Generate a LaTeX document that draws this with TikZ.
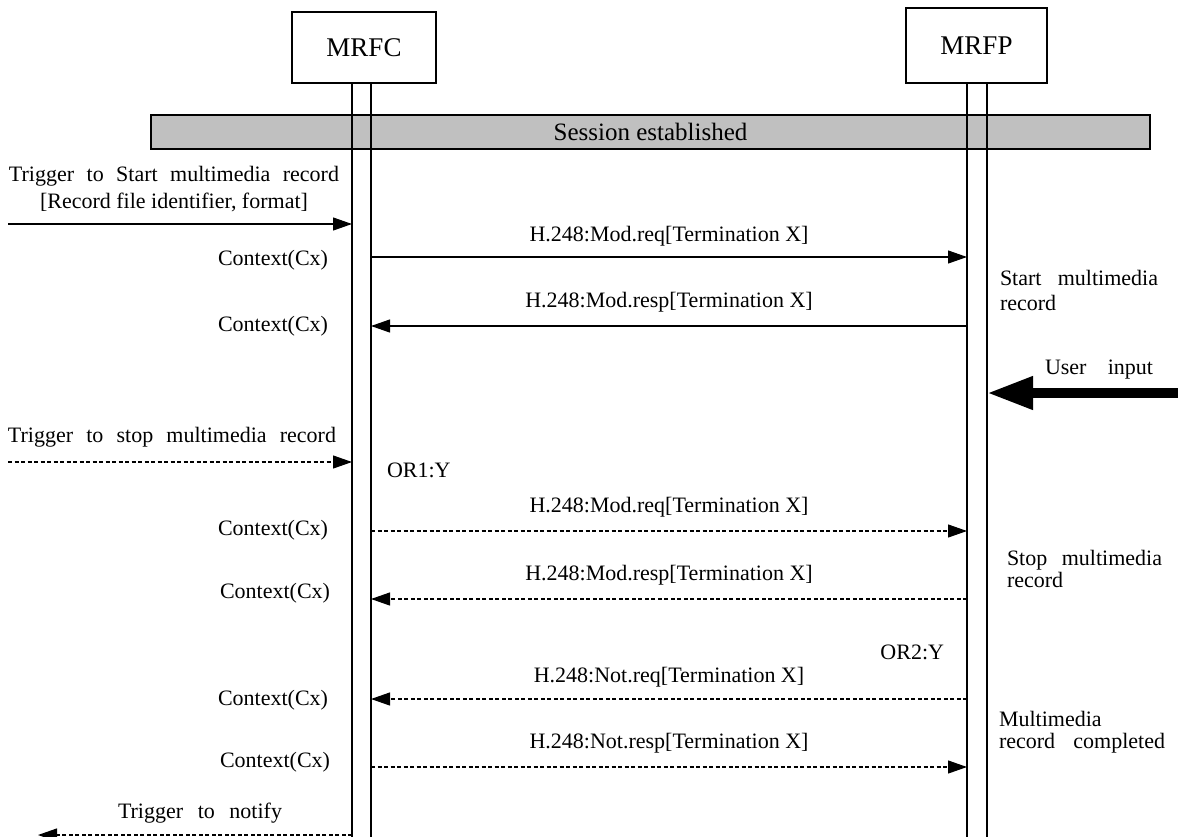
\documentclass[tikz,border=0pt]{standalone}
\usepackage{fontspec}
\setmainfont{Liberation Serif}
\usetikzlibrary{arrows.meta}
\definecolor{barg}{RGB}{192,192,192}
\begin{document}
\begin{tikzpicture}[x=1pt,y=-1pt,
  every node/.style={inner sep=0pt, outer sep=0pt},
  lbl/.style={font=\fontsize{22}{24}\selectfont},
  entity/.style={draw, line width=1.2pt, font=\fontsize{27}{30}\selectfont},
  life/.style={line width=1.1pt},
  msg/.style={line width=1.1pt, -{Triangle[length=19pt,width=13pt]}},
  dmsg/.style={msg, dash pattern=on 4pt off 2.5pt},
  thick arrow/.style={line width=10pt, -{Triangle[length=46pt,width=31pt]}},
]
\useasboundingbox (0,0) rectangle (1178,836);

% entities
\node[entity, minimum width=144pt, minimum height=71pt] (mrfc) at (364,47.5) {MRFC};
\node[entity, minimum width=141pt, minimum height=75pt] (mrfp) at (976.5,45.5) {MRFP};

% session bar
\node[draw, fill=barg, line width=1.5pt, minimum width=999pt, minimum height=34pt,
      font=\fontsize{25}{28}\selectfont] (sess) at (650.5,132) {Session established};

% lifelines
\coordinate (cLt) at (352,83); \coordinate (cLb) at (352,840);
\coordinate (cRt) at (371,83); \coordinate (cRb) at (371,840);
\coordinate (pLt) at (967,83); \coordinate (pLb) at (967,840);
\coordinate (pRt) at (987,83); \coordinate (pRb) at (987,840);
\draw[life] (cLt) -- (cLb);
\draw[life] (cRt) -- (cRb);
\draw[life] (pLt) -- (pLb);
\draw[life] (pRt) -- (pRb);

% message end points
\coordinate (a0) at (8,224);    \coordinate (a1) at (352,224);
\coordinate (b0) at (371,257);  \coordinate (b1) at (967,257);
\coordinate (c0) at (967,326);  \coordinate (c1) at (371,326);
\coordinate (u0) at (1180,393); \coordinate (u1) at (987,393);
\coordinate (d0) at (8,462);    \coordinate (d1) at (352,462);
\coordinate (e0) at (371,531);  \coordinate (e1) at (967,531);
\coordinate (f0) at (967,599);  \coordinate (f1) at (371,599);
\coordinate (g0) at (967,699);  \coordinate (g1) at (371,699);
\coordinate (h0) at (371,767);  \coordinate (h1) at (967,767);
\coordinate (n0) at (352,835);  \coordinate (n1) at (38,835);

\draw[msg] (a0) -- (a1);
\draw[msg] (b0) -- (b1);
\draw[msg] (c0) -- (c1);
\draw[thick arrow] (u0) -- (u1);
\draw[dmsg] (d0) -- (d1);
\draw[dmsg] (e0) -- (e1);
\draw[dmsg] (f0) -- (f1);
\draw[dmsg] (g0) -- (g1);
\draw[dmsg] (h0) -- (h1);
\draw[dmsg] (n0) -- (n1);

% labels
\node[lbl, align=center, font=\fontsize{22}{27}\selectfont] (tstart) at (174,189)
  {\makebox[330pt][s]{Trigger to Start multimedia record}\\{}[Record file identifier, format]};
\node[lbl] (lb) at (669,236) {H.248:Mod.req[Termination X]};
\node[lbl] (lc) at (669,302) {H.248:Mod.resp[Termination X]};
\node[lbl, anchor=east] (cx1) at (328,260) {Context(Cx)};
\node[lbl, anchor=east] (cx2) at (328,326) {Context(Cx)};
\node[lbl, anchor=west, align=left, font=\fontsize{22}{25}\selectfont] (startrec) at (1000,290)
  {\makebox[158pt][s]{Start multimedia}\\record};
\node[lbl] (uin) at (1099,370) {\makebox[108pt][s]{User input}};

\node[lbl] (tstop) at (172,437) {\makebox[328pt][s]{Trigger to stop multimedia record}};
\node[lbl, anchor=west] (or1) at (387,470) {OR1:Y};
\node[lbl] (le) at (669,507) {H.248:Mod.req[Termination X]};
\node[lbl] (lf) at (669,575) {H.248:Mod.resp[Termination X]};
\node[lbl, anchor=east] (cx3) at (328,530) {Context(Cx)};
\node[lbl, anchor=east] (cx4) at (330,593) {Context(Cx)};
\node[lbl, anchor=west, align=left, font=\fontsize{22}{22}\selectfont] (stoprec) at (1007,569)
  {\makebox[155pt][s]{Stop multimedia}\\record};

\node[lbl, anchor=east] (or2) at (944,652) {OR2:Y};
\node[lbl] (lg) at (669,677) {H.248:Not.req[Termination X]};
\node[lbl] (lh) at (669,743) {H.248:Not.resp[Termination X]};
\node[lbl, anchor=east] (cx5) at (328,700) {Context(Cx)};
\node[lbl, anchor=east] (cx6) at (330,762) {Context(Cx)};
\node[lbl, anchor=west, align=left, font=\fontsize{22}{22}\selectfont] (done) at (999,732)
  {Multimedia\\\makebox[166pt][s]{record completed}};

\node[lbl] (tnot) at (200,813) {\makebox[164pt][s]{Trigger to notify}};
\end{tikzpicture}
\end{document}
